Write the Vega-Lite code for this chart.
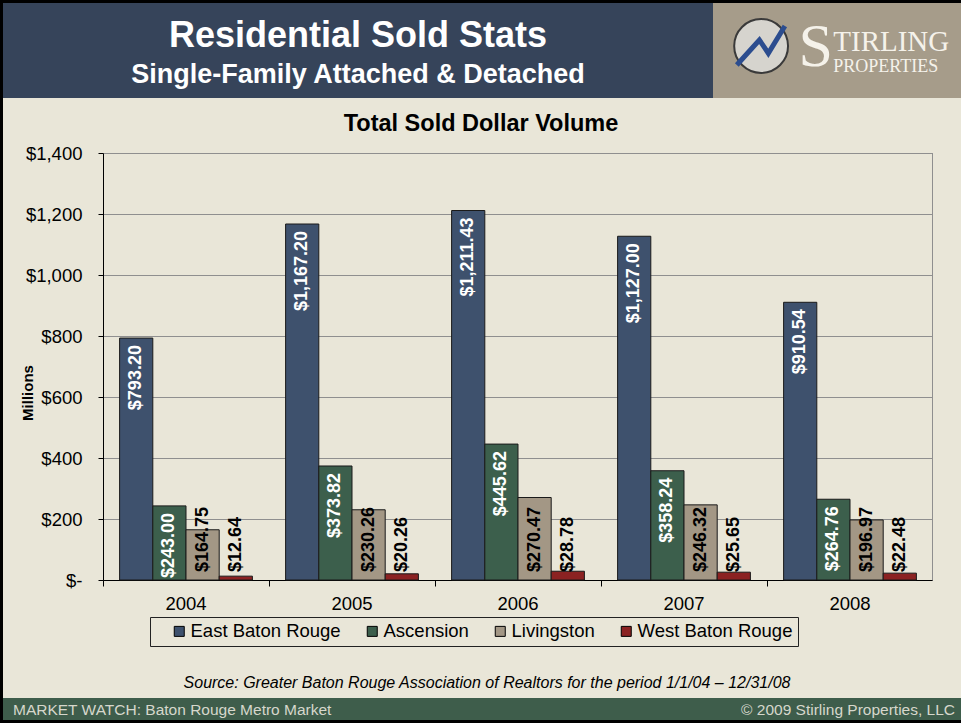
{
  "$schema": "https://vega.github.io/schema/vega-lite/v6.json",
  "background": "#000000",
  "padding": {"left": 3, "top": 3, "right": 0, "bottom": 3},
  "spacing": 0,
  "config": {
    "font": "Liberation Sans",
    "view": {"stroke": null},
    "concat": {"spacing": 0}
  },
  "datasets": {
    "sold": [
      {"year": "2004", "region": "East Baton Rouge", "value": 793.20},
      {"year": "2004", "region": "Ascension", "value": 243.00},
      {"year": "2004", "region": "Livingston", "value": 164.75},
      {"year": "2004", "region": "West Baton Rouge", "value": 12.64},
      {"year": "2005", "region": "East Baton Rouge", "value": 1167.20},
      {"year": "2005", "region": "Ascension", "value": 373.82},
      {"year": "2005", "region": "Livingston", "value": 230.26},
      {"year": "2005", "region": "West Baton Rouge", "value": 20.26},
      {"year": "2006", "region": "East Baton Rouge", "value": 1211.43},
      {"year": "2006", "region": "Ascension", "value": 445.62},
      {"year": "2006", "region": "Livingston", "value": 270.47},
      {"year": "2006", "region": "West Baton Rouge", "value": 28.78},
      {"year": "2007", "region": "East Baton Rouge", "value": 1127.00},
      {"year": "2007", "region": "Ascension", "value": 358.24},
      {"year": "2007", "region": "Livingston", "value": 246.32},
      {"year": "2007", "region": "West Baton Rouge", "value": 25.65},
      {"year": "2008", "region": "East Baton Rouge", "value": 910.54},
      {"year": "2008", "region": "Ascension", "value": 264.76},
      {"year": "2008", "region": "Livingston", "value": 196.97},
      {"year": "2008", "region": "West Baton Rouge", "value": 22.48}
    ],
    "emblemLine": [
      {"u": 9.6, "v": 65.3},
      {"u": 18.7, "v": 38.9},
      {"u": 22.3, "v": 52.9},
      {"u": 29.0, "v": 24.2}
    ]
  },
  "vconcat": [
    {
      "hconcat": [
        {
          "width": 710,
          "height": 95,
          "view": {"fill": "#36445a", "stroke": null},
          "layer": [
            {
              "data": {"values": [{"t": "Residential Sold Stats"}]},
              "mark": {"type": "text", "fontSize": 36, "fontWeight": "bold", "color": "#ffffff", "align": "center", "baseline": "alphabetic", "dy": -3.5},
              "encoding": {"text": {"field": "t", "type": "nominal"}}
            },
            {
              "data": {"values": [{"t": "Single-Family Attached & Detached"}]},
              "mark": {"type": "text", "fontSize": 27, "fontWeight": "bold", "color": "#ffffff", "align": "center", "baseline": "alphabetic", "dy": 32.8},
              "encoding": {"text": {"field": "t", "type": "nominal"}}
            }
          ]
        },
        {
          "width": 248,
          "height": 95,
          "view": {"fill": "#a69c8a", "stroke": null},
          "layer": [
            {
              "data": {"values": [{"k": "emblem"}]},
              "mark": {"type": "point", "shape": "circle", "filled": true, "fill": "#d6d4ce", "stroke": "#3a3a3a", "strokeWidth": 2, "size": 2900, "opacity": 1},
              "encoding": {
                "x": {"datum": 19.4, "type": "quantitative", "scale": {"domain": [0, 100], "nice": false}, "axis": null},
                "y": {"datum": 45.3, "type": "quantitative", "scale": {"domain": [0, 100], "nice": false, "reverse": true}, "axis": null}
              }
            },
            {
              "data": {"name": "emblemLine"},
              "mark": {"type": "line", "color": "#2c4d8f", "strokeWidth": 5},
              "encoding": {
                "x": {"field": "u", "type": "quantitative", "scale": {"domain": [0, 100], "nice": false}, "axis": null},
                "y": {"field": "v", "type": "quantitative", "scale": {"domain": [0, 100], "nice": false, "reverse": true}, "axis": null}
              }
            },
            {
              "data": {"values": [{"t": "S"}]},
              "mark": {"type": "text", "font": "Liberation Serif", "fontSize": 62, "color": "#f5f2ea", "align": "left", "baseline": "alphabetic"},
              "encoding": {
                "text": {"field": "t", "type": "nominal"},
                "x": {"datum": 34.5, "type": "quantitative", "scale": {"domain": [0, 100], "nice": false}, "axis": null},
                "y": {"datum": 66, "type": "quantitative", "scale": {"domain": [0, 100], "nice": false, "reverse": true}, "axis": null}
              }
            },
            {
              "data": {"values": [{"t": "TIRLING"}]},
              "mark": {"type": "text", "font": "Liberation Serif", "fontSize": 29, "color": "#f5f2ea", "align": "left", "baseline": "alphabetic"},
              "encoding": {
                "text": {"field": "t", "type": "nominal"},
                "x": {"datum": 48.5, "type": "quantitative", "scale": {"domain": [0, 100], "nice": false}, "axis": null},
                "y": {"datum": 51, "type": "quantitative", "scale": {"domain": [0, 100], "nice": false, "reverse": true}, "axis": null}
              }
            },
            {
              "data": {"values": [{"t": "PROPERTIES"}]},
              "mark": {"type": "text", "font": "Liberation Serif", "fontSize": 18, "color": "#f5f2ea", "align": "left", "baseline": "alphabetic"},
              "encoding": {
                "text": {"field": "t", "type": "nominal"},
                "x": {"datum": 48.5, "type": "quantitative", "scale": {"domain": [0, 100], "nice": false}, "axis": null},
                "y": {"datum": 73, "type": "quantitative", "scale": {"domain": [0, 100], "nice": false, "reverse": true}, "axis": null}
              }
            }
          ]
        }
      ]
    },
    {
      "bounds": "flush",
      "hconcat": [
        {
          "width": 100,
          "height": 600,
          "view": {"fill": "#e9e6d8", "stroke": null},
          "data": {"values": [{"k": "pad"}]},
          "mark": {"type": "point", "opacity": 0},
          "encoding": {}
        },
        {
          "width": 830,
          "height": 600,
          "view": {"fill": "#e9e6d8", "stroke": null},
          "data": {"name": "sold"},
          "resolve": {"axis": {"y": "independent"}},
          "layer": [
            {
              "mark": {"type": "bar", "stroke": "#1a1a1a", "strokeWidth": 1},
              "encoding": {
                "x": {
                  "field": "year", "type": "nominal",
                  "scale": {"paddingInner": 0, "paddingOuter": 0},
                  "axis": {"bandPosition": 0, "labelAngle": 0, "labelFontSize": 18.5, "labelColor": "#000000", "labelPadding": 8, "tickSize": 6, "tickColor": "#000000", "domainColor": "#000000", "offset": -118, "title": null, "grid": false}
                },
                "xOffset": {
                  "field": "region", "type": "nominal",
                  "scale": {"domain": ["East Baton Rouge", "Ascension", "Livingston", "West Baton Rouge"], "paddingInner": 0, "paddingOuter": 0.5}
                },
                "y": {
                  "field": "value", "type": "quantitative",
                  "scale": {"domain": [0, 1400], "range": [482, 55], "nice": false},
                  "axis": {
                    "orient": "left",
                    "values": [0, 200, 400, 600, 800, 1000, 1200, 1400],
                    "labelExpr": "datum.value == 0 ? '$-\u00a0\u00a0' : '$' + format(datum.value, ',')",
                    "labelFontSize": 18.5, "labelColor": "#000000", "labelPadding": 16, "labelFlush": false,
                    "tickSize": 5, "tickColor": "#000000",
                    "domainColor": "#000000", "domainWidth": 1,
                    "grid": true, "gridColor": "#8f8f8f", "gridWidth": 1,
                    "title": "Millions", "titleFontSize": 15, "titleFontWeight": "bold", "titleColor": "#000000",
                    "titleAngle": 270, "titleX": -76, "titleY": 294.5, "titleBaseline": "middle", "titleAlign": "center"
                  }
                },
                "color": {
                  "field": "region", "type": "nominal",
                  "scale": {"domain": ["East Baton Rouge", "Ascension", "Livingston", "West Baton Rouge"], "range": ["#3e516d", "#3c5f4c", "#a39785", "#8b2222"]},
                  "legend": {
                    "orient": "none", "legendX": 147, "legendY": 614, "direction": "horizontal",
                    "title": " ", "titleOrient": "left", "titlePadding": 15, "titleFontSize": 10,
                    "padding": 5, "strokeColor": "#222222",
                    "labelFontSize": 18.5, "labelColor": "#000000", "labelOffset": 2, "columnPadding": 22,
                    "labelExpr": "datum.label == 'West Baton Rouge' ? 'West Baton Rouge\u00a0\u00a0\u00a0' : datum.label",
                    "symbolType": "square", "symbolSize": 100, "symbolStrokeColor": "#000000", "symbolStrokeWidth": 1
                  }
                }
              }
            },
            {
              "transform": [{"filter": {"field": "region", "oneOf": ["East Baton Rouge", "Ascension"]}}],
              "mark": {"type": "text", "angle": 270, "align": "right", "baseline": "middle", "dx": -7, "fontSize": 18, "fontWeight": "bold", "color": "#ffffff"},
              "encoding": {
                "x": {"field": "year", "type": "nominal"},
                "xOffset": {"field": "region", "type": "nominal", "scale": {"domain": ["East Baton Rouge", "Ascension", "Livingston", "West Baton Rouge"], "paddingInner": 0, "paddingOuter": 0.5}},
                "y": {"field": "value", "type": "quantitative", "scale": {"domain": [0, 1400], "range": [482, 55], "nice": false}, "axis": null},
                "text": {"field": "value", "type": "quantitative", "format": "$,.2f"}
              }
            },
            {
              "transform": [{"filter": {"field": "region", "oneOf": ["Livingston", "West Baton Rouge"]}}],
              "mark": {"type": "text", "angle": 270, "align": "left", "baseline": "middle", "dx": 8, "fontSize": 18, "fontWeight": "bold", "color": "#000000"},
              "encoding": {
                "x": {"field": "year", "type": "nominal"},
                "xOffset": {"field": "region", "type": "nominal", "scale": {"domain": ["East Baton Rouge", "Ascension", "Livingston", "West Baton Rouge"], "paddingInner": 0, "paddingOuter": 0.5}},
                "y": {"datum": 0, "type": "quantitative", "scale": {"domain": [0, 1400], "range": [482, 55], "nice": false}, "axis": {"orient": "right", "labels": false, "ticks": false, "grid": false, "domainColor": "#8f8f8f", "domainWidth": 3, "title": null}},
                "text": {"field": "value", "type": "quantitative", "format": "$,.2f"}
              }
            },
            {
              "data": {"values": [{"t": "Total Sold Dollar Volume"}]},
              "mark": {"type": "text", "fontSize": 23.5, "fontWeight": "bold", "color": "#000000", "align": "center", "baseline": "alphabetic", "dx": -37, "dy": -22},
              "encoding": {
                "text": {"field": "t", "type": "nominal"},
                "y": {"datum": 1400, "type": "quantitative", "scale": {"domain": [0, 1400], "range": [482, 55], "nice": false}, "axis": null}
              }
            },
            {
              "data": {"values": [{"t": "Source: Greater Baton Rouge Association of Realtors for the period 1/1/04 – 12/31/08"}]},
              "mark": {"type": "text", "fontSize": 16, "fontStyle": "italic", "color": "#000000", "align": "center", "baseline": "alphabetic", "dx": -31, "dy": 108},
              "encoding": {
                "text": {"field": "t", "type": "nominal"},
                "y": {"datum": 0, "type": "quantitative", "scale": {"domain": [0, 1400], "range": [482, 55], "nice": false}, "axis": null}
              }
            }
          ]
        },
        {
          "width": 28,
          "height": 600,
          "view": {"fill": "#e9e6d8", "stroke": null},
          "data": {"values": [{"k": "pad"}]},
          "mark": {"type": "point", "opacity": 0},
          "encoding": {}
        }
      ]
    },
    {
      "width": 958,
      "height": 22,
      "view": {"fill": "#3e5d4b", "stroke": null},
      "layer": [
        {
          "data": {"values": [{"t": "MARKET WATCH: Baton Rouge Metro Market"}]},
          "mark": {"type": "text", "fontSize": 15.5, "color": "#d6d7cc", "align": "left", "baseline": "alphabetic", "dx": 10, "dy": 6},
          "encoding": {
            "text": {"field": "t", "type": "nominal"},
            "x": {"datum": 0, "type": "quantitative", "scale": {"domain": [0, 100], "nice": false}, "axis": null}
          }
        },
        {
          "data": {"values": [{"t": "© 2009 Stirling Properties, LLC"}]},
          "mark": {"type": "text", "fontSize": 15.5, "color": "#d6d7cc", "align": "right", "baseline": "alphabetic", "dx": -6, "dy": 6},
          "encoding": {
            "text": {"field": "t", "type": "nominal"},
            "x": {"datum": 100, "type": "quantitative", "scale": {"domain": [0, 100], "nice": false}, "axis": null}
          }
        }
      ]
    }
  ]
}
